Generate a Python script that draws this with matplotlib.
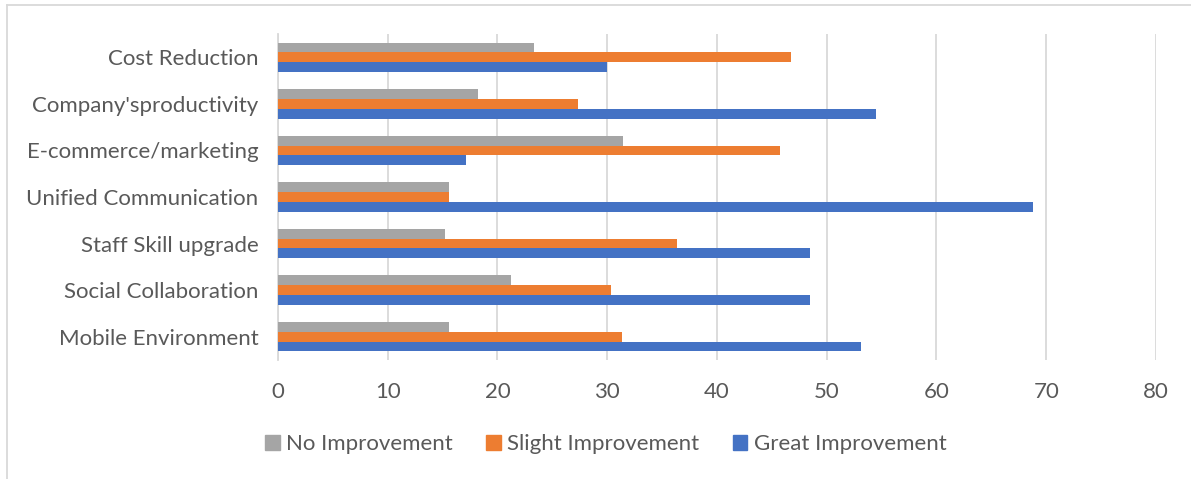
import matplotlib.pyplot as plt
import matplotlib.patches as mpatches
import numpy as np

plt.rcParams['font.family'] = ['Lato', 'DejaVu Sans']

categories = ["Mobile Environment", "Social Collaboration", "Staff Skill upgrade",
              "Unified Communication", "E-commerce/marketing", "Company'sproductivity",
              "Cost Reduction"]
no_improvement = [15.6, 21.2, 15.2, 15.6, 31.4, 18.2, 23.3]
slight_improvement = [31.3, 30.3, 36.4, 15.6, 45.7, 27.3, 46.7]
great_improvement = [53.1, 48.5, 48.5, 68.8, 17.1, 54.5, 30.0]

series = [("No Improvement", no_improvement, "#A5A5A5"),
          ("Slight Improvement", slight_improvement, "#ED7D31"),
          ("Great Improvement", great_improvement, "#4472C4")]

fig = plt.figure(figsize=(11.91, 4.79), dpi=100)
ax = fig.add_axes([278 / 1191, 1 - 360 / 479, (1156 - 278) / 1191, (360 - 34) / 479])

y = np.arange(len(categories))
h = 0.21
offsets = [h, 0, -h]
for (name, vals, col), off in zip(series, offsets):
    ax.barh(y + off, vals, height=h, color=col, label=name, zorder=3)

ax.set_xlim(0, 80)
ax.set_ylim(-0.5, len(categories) - 0.5)
ax.set_xticks(range(0, 81, 10))
ax.set_yticks(y)
ax.set_yticklabels(categories)
ax.grid(axis='x', color='#D9D9D9', linewidth=1.3, zorder=0)
for s in ['top', 'right', 'bottom']:
    ax.spines[s].set_visible(False)
ax.spines['left'].set_color('#D9D9D9')
ax.spines['left'].set_linewidth(1.3)
ax.tick_params(axis='both', length=0, labelsize=16, colors='#595959')
ax.tick_params(axis='y', pad=14)
ax.tick_params(axis='x', pad=16)

handles = [mpatches.Patch(color=c, label=n) for n, _, c in series]
fig.legend(handles=handles, loc='center', bbox_to_anchor=(606 / 1191, 1 - 444 / 479),
           ncol=3, frameon=False, fontsize=16, handlelength=0.65, handleheight=0.65,
           handletextpad=0.3, columnspacing=1.5, labelcolor='#595959')

# chart frame (left and top edges)
fig.add_artist(plt.Line2D([7 / 1191, 7 / 1191], [0, 1 - 5 / 479], color='#D9D9D9',
                          linewidth=1.3, transform=fig.transFigure))
fig.add_artist(plt.Line2D([7 / 1191, 1], [1 - 5 / 479, 1 - 5 / 479], color='#D9D9D9',
                          linewidth=1.3, transform=fig.transFigure))

fig.savefig("out.png", dpi=100)
